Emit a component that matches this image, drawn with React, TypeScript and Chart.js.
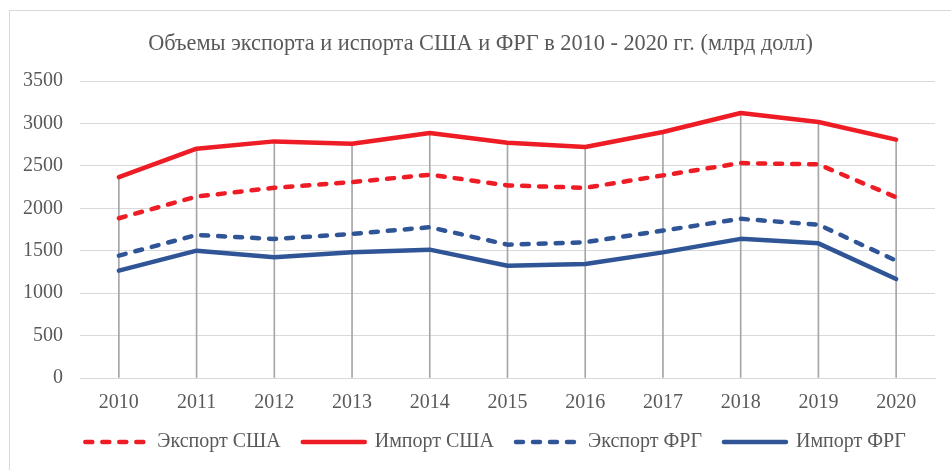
import React, { useEffect, useRef } from "react";
import { Chart, registerables } from "chart.js";

Chart.register(...registerables);

const years = ["2010", "2011", "2012", "2013", "2014", "2015", "2016", "2017", "2018", "2019", "2020"];
const exportUSA = [1883, 2139, 2242, 2309, 2396, 2270, 2242, 2388, 2533, 2518, 2131];
const importUSA = [2368, 2703, 2789, 2762, 2888, 2774, 2722, 2900, 3124, 3018, 2810];
const exportFRG = [1442, 1686, 1639, 1698, 1777, 1572, 1600, 1738, 1876, 1808, 1383];
const importFRG = [1265, 1501, 1422, 1481, 1513, 1324, 1344, 1481, 1640, 1587, 1166];
const yTicks = [0, 500, 1000, 1500, 2000, 2500, 3000, 3500];

const RED = "#EE1C25";
const BLUE = "#2F5597";
const TEXT = "#595959";
const FONT = "'Liberation Serif', 'Times New Roman', serif";

const shiftPlugin = {
  id: "shiftBoxes",
  afterLayout(c: any) {
    const t = c.titleBlock;
    if (t) { t.left += 13; t.right += 13; }
    const l = c.legend;
    if (l) { l.left += 28; l.right += 28; }
  },
};

export default function App() {
  const ref = useRef<HTMLCanvasElement | null>(null);
  useEffect(() => {
    if (!ref.current) return;
    const dash = [7, 10];
    const chart = new Chart(ref.current, {
      type: "line",
      data: {
        labels: years,
        datasets: [
          { type: "line", label: "Экспорт США", data: exportUSA, borderColor: RED, backgroundColor: RED, borderWidth: 4.5, borderDash: dash, borderCapStyle: "round", borderJoinStyle: "round", pointRadius: 0, order: 0 },
          { type: "line", label: "Импорт США", data: importUSA, borderColor: RED, backgroundColor: RED, borderWidth: 4.5, borderCapStyle: "round", borderJoinStyle: "round", pointRadius: 0, order: 1 },
          { type: "line", label: "Экспорт ФРГ", data: exportFRG, borderColor: BLUE, backgroundColor: BLUE, borderWidth: 4.5, borderDash: dash, borderCapStyle: "round", borderJoinStyle: "round", pointRadius: 0, order: 2 },
          { type: "line", label: "Импорт ФРГ", data: importFRG, borderColor: BLUE, backgroundColor: BLUE, borderWidth: 4.5, borderCapStyle: "round", borderJoinStyle: "round", pointRadius: 0, order: 3 },
          { type: "bar", label: "drop", data: importUSA, backgroundColor: "#A6A6A6", borderWidth: 0, barThickness: 1, order: 10 } as any,
        ],
      },
      plugins: [shiftPlugin],
      options: {
        animation: false,
        responsive: false,
        maintainAspectRatio: false,
        layout: { padding: { left: 0, right: 16, top: 0, bottom: 8 } },
        plugins: {
          title: {
            display: true,
            text: "Объемы экспорта и испорта США и ФРГ в 2010 - 2020 гг. (млрд долл)",
            color: TEXT,
            font: { family: FONT, size: 22.3, weight: "normal" },
            padding: { top: 30.3, bottom: 24 },
          },
          legend: {
            position: "bottom",
            labels: {
              usePointStyle: true,
              pointStyle: "line",
              pointStyleWidth: 62,
              boxHeight: 20,
              color: TEXT,
              font: { family: FONT, size: 20 },
              padding: 22,
              generateLabels: (c: any) => {
                const base = (Chart as any).defaults.plugins.legend.labels.generateLabels(c);
                return base
                  .filter((i: any) => i.text !== "drop")
                  .map((i: any) => {
                    const ds: any = c.data.datasets[i.datasetIndex];
                    return {
                      ...i,
                      pointStyle: "line",
                      lineDash: ds.borderDash || [],
                      lineCap: "round",
                      lineWidth: 4.5,
                      strokeStyle: ds.borderColor,
                      fillStyle: ds.borderColor,
                    };
                  });
              },
            },
          },
          tooltip: { enabled: false },
        },
        scales: {
          x: {
            offset: true,
            afterFit: (s: any) => { s.height = 32; },
            grid: { display: false, drawTicks: false },
            border: { display: true, color: "#D9D9D9" },
            ticks: { color: TEXT, font: { family: FONT, size: 20 }, padding: 13, maxRotation: 0 },
          },
          y: {
            min: 0,
            max: 3500,
            afterBuildTicks: (s: any) => { s.ticks = yTicks.map((v) => ({ value: v })); },
            afterFit: (s: any) => { s.width = 80; },
            grid: { color: "#D9D9D9", drawTicks: false },
            border: { display: false },
            ticks: { color: TEXT, font: { family: FONT, size: 20 }, padding: 17, callback: (v: any) => String(v) },
          },
        },
      },
    });
    return () => chart.destroy();
  }, []);
  return (
    <div style={{ position: "fixed", left: 0, top: 0, width: 951, height: 470, overflow: "hidden", background: "#fff" }}>
      <div style={{ position: "absolute", left: 9, top: 10, width: 980, height: 500, border: "1px solid #D9D9D9" }} />
      <canvas ref={ref} width={951} height={470} style={{ position: "absolute", left: 0, top: 0, width: 951, height: 470 }} />
    </div>
  );
}
